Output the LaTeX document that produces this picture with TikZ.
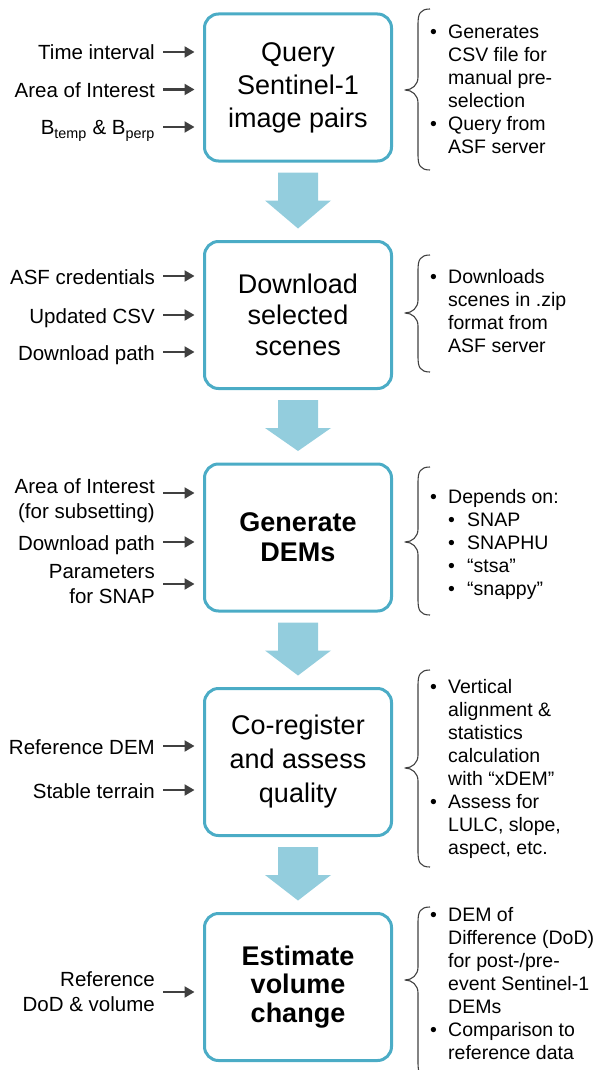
\documentclass[tikz,border=0pt]{standalone}
\usepackage{fontspec}
\setmainfont{Liberation Sans}
\usetikzlibrary{arrows.meta,calc}

\definecolor{boxline}{HTML}{4BACC6}
\definecolor{flowfill}{HTML}{93CDDD}
\definecolor{inkgray}{HTML}{404040}

% bullets for the notes on the right
\newcommand\bul{\makebox[18pt][l]{\textbullet}}
\newcommand\ind{\hspace*{18pt}}
\newcommand\subbul{\hspace*{18pt}\makebox[19pt][l]{\textbullet}}

% curly brace: top, tip, bottom (y in px)
\newcommand\sidebrace[3]{%
  \draw[bracepen] (430,#1) .. controls (420,#1) and (418,#1+5) .. (418,#1+15)
    -- (418,#2-13) .. controls (418,#2-5) and (412,#2) .. (405,#2)
    .. controls (412,#2) and (418,#2+5) .. (418,#2+13)
    -- (418,#3-15) .. controls (418,#3-5) and (420,#3) .. (430,#3);}

% thick down arrow between two steps
\newcommand\flowarrow[2]{%
  \fill[flowfill] ($(#1.south)+(-20,10)$) -- ++(40,0) -- ++(0,28) -- ++(13,0)
    -- ($(#2.north)+(0,-11.5)$) -- ($(#1.south)+(-33,38)$) -- ++(13,0) -- cycle;}

\begin{document}
\begin{tikzpicture}[x=1pt, y=-1pt, line join=round,
    stepbox/.style={draw=boxline, line width=3pt, rounded corners=14pt,
      minimum width=187pt, minimum height=147pt, align=center, inner sep=2pt,
      font=\fontsize{27}{33}\selectfont},
    inlabel/.style={inner sep=0pt, anchor=east, align=right,
      font=\fontsize{20.5}{25}\selectfont},
    oneline/.style={text height=16pt, text depth=0pt},
    note/.style={inner sep=0pt, anchor=north west, align=left,
      font=\fontsize{19.5}{23}\selectfont},
    inarr/.style={-{Triangle[length=10pt,width=11pt]}, draw=inkgray,
      line width=2.2pt, shorten <=8pt, shorten >=8.5pt},
    bracepen/.style={draw=inkgray, line width=1.1pt}]
  \useasboundingbox (0,0) rectangle (595,1070);
  \clip (0,0) rectangle (595,1070);

  % steps
  \node[stepbox] (query) at (298,87.5) {Query\\Sentinel-1\\image pairs};
  \node[stepbox, font=\fontsize{27}{31}\selectfont] (download) at (298,315) {Download\\selected\\scenes};
  \node[stepbox, font=\fontsize{27}{30}\selectfont\bfseries] (generate) at (298,537.5) {Generate\\DEMs};
  \node[stepbox, font=\fontsize{27}{34}\selectfont] (coreg) at (298,762) {Co-register\\and assess\\quality};
  \node[stepbox, font=\fontsize{27}{28.5}\selectfont\bfseries] (estimate) at (298,987) {Estimate\\volume\\change};

  \flowarrow{query}{download}
  \flowarrow{download}{generate}
  \flowarrow{generate}{coreg}
  \flowarrow{coreg}{estimate}

  % inputs
  \node[inlabel, oneline] (time) at (155,52) {Time interval};
  \node[inlabel, oneline] (aoi) at (155,89.5) {Area of Interest};
  \node[inlabel, oneline] (base) at (155,127) {B\textsubscript{temp} \& B\textsubscript{perp}};
  \foreach \n in {time,aoi,base} \draw[inarr] (\n.east) -- (\n.east -| query.west);

  \node[inlabel, oneline] (cred) at (155,276) {ASF credentials};
  \node[inlabel, oneline] (csv) at (155,315) {Updated CSV};
  \node[inlabel, oneline] (path) at (155,352) {Download path};
  \foreach \n in {cred,csv,path} \draw[inarr] (\n.east) -- (\n.east -| download.west);

  \node[inlabel] (subset) at (155,500.5) {Area of Interest\\(for subsetting)};
  \node[inlabel, oneline] (path2) at (155,542) {Download path};
  \node[inlabel] (params) at (155,584) {Parameters\\for SNAP};
  \draw[inarr] ([yshift=7.5pt]subset.east) coordinate (subin) -- (subin -| generate.west);
  \foreach \n in {path2,params} \draw[inarr] (\n.east) -- (\n.east -| generate.west);

  \node[inlabel, oneline] (refdem) at (155,746) {Reference DEM};
  \node[inlabel, oneline] (stable) at (155,790) {Stable terrain};
  \foreach \n in {refdem,stable} \draw[inarr] (\n.east) -- (\n.east -| coreg.west);

  \node[inlabel] (refdod) at (155,992) {Reference\\DoD \& volume};
  \draw[inarr] (refdod.east) -- (refdod.east -| estimate.west);

  % notes
  \sidebrace{9}{90}{170}
  \node[note] (n1) at (430,25.1) {\bul Generates\\\ind CSV file for\\\ind manual pre-\\\ind selection\\\bul Query from\\\ind ASF server};
  \sidebrace{255}{313}{372}
  \node[note] (n2) at (430,269.1) {\bul Downloads\\\ind scenes in .zip\\\ind format from\\\ind ASF server};
  \sidebrace{467}{542}{615}
  \node[note] (n3) at (430,488.8) {\bul Depends on:\\\subbul SNAP\\\subbul SNAPHU\\\subbul “stsa”\\\subbul “snappy”};
  \sidebrace{670}{768}{867}
  \node[note] (n4) at (430,678.8) {\bul Vertical\\\ind alignment \&\\\ind statistics\\\ind calculation\\\ind with “xDEM”\\\bul Assess for\\\ind LULC, slope,\\\ind aspect, etc.};
  \sidebrace{907}{980}{1078}
  \node[note] (n5) at (430,907.5) {\bul DEM of\\\ind Difference (DoD)\\\ind for post-/pre-\\\ind event Sentinel-1\\\ind DEMs\\\bul Comparison to\\\ind reference data};
\end{tikzpicture}
\end{document}
